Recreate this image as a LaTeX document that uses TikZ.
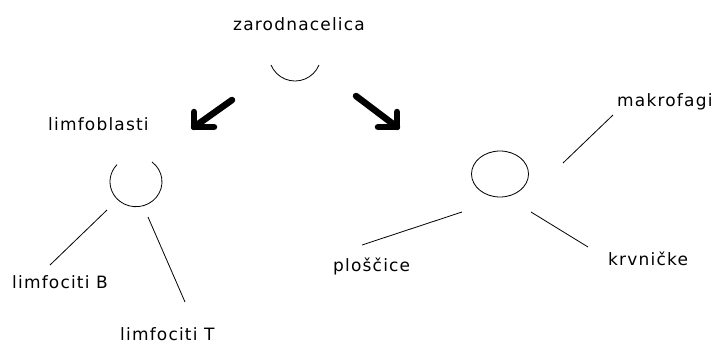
\documentclass[tikz,border=0pt]{standalone}
\usepackage{fontspec}
\setmainfont[LetterSpace=7]{DejaVu Sans}
\usetikzlibrary{shapes.geometric}
\begin{document}
\begin{tikzpicture}[x=1pt,y=-1pt,
  lbl/.style={anchor=base west,inner sep=0pt,font=\fontsize{17}{19}\selectfont},
  thin/.style={line width=0.8pt},
  bigarrow/.style={line width=6.5pt,line cap=round,line join=round}]
\useasboundingbox[fill=white] (0,0) rectangle (717,345);
% texts
\node[lbl] (zc) at (233,31) {zarodnacelica};
\node[lbl] (lb) at (48,130) {limfoblasti};
\node[lbl] (lB) at (12,288) {limfociti B};
\node[lbl] (lT) at (120,340) {limfociti T};
\node[lbl] (mk) at (617,106) {makrofagi};
\node[lbl] (pl) at (333,271) {ploščice};
\node[lbl] (kr) at (608,265) {krvničke};
% top arc
\draw[thin] (319,65) arc[start angle=22.6,end angle=157.4,radius=26];
% left circle (open on top)
\draw[thin] (152,162) arc[start angle=-52,end angle=223,x radius=26,y radius=25];
% right ellipse
\node[draw,thin,ellipse,minimum width=57pt,minimum height=46pt,inner sep=0pt] (ec) at (500,174) {};
% arrows
\coordinate (a1s) at (232,100);
\coordinate (a1t) at (194,127);
\draw[bigarrow] (a1s) -- (a1t);
\draw[bigarrow] (194,112) -- (a1t) -- (214,127);
\coordinate (a2s) at (356,96);
\coordinate (a2t) at (397,127);
\draw[bigarrow] (a2s) -- (a2t);
\draw[bigarrow] (397,112) -- (a2t) -- (378,127);
% connector lines
\coordinate (b1) at (107,210); \coordinate (b2) at (50,265);
\coordinate (t1) at (148,217); \coordinate (t2) at (185,302);
\coordinate (m1) at (613,115); \coordinate (m2) at (563,163);
\coordinate (p1) at (462,212); \coordinate (p2) at (362,245);
\coordinate (k1) at (531,212); \coordinate (k2) at (588,247);
\draw[thin] (b1) -- (b2);
\draw[thin] (t1) -- (t2);
\draw[thin] (m1) -- (m2);
\draw[thin] (p1) -- (p2);
\draw[thin] (k1) -- (k2);
\end{tikzpicture}
\end{document}
